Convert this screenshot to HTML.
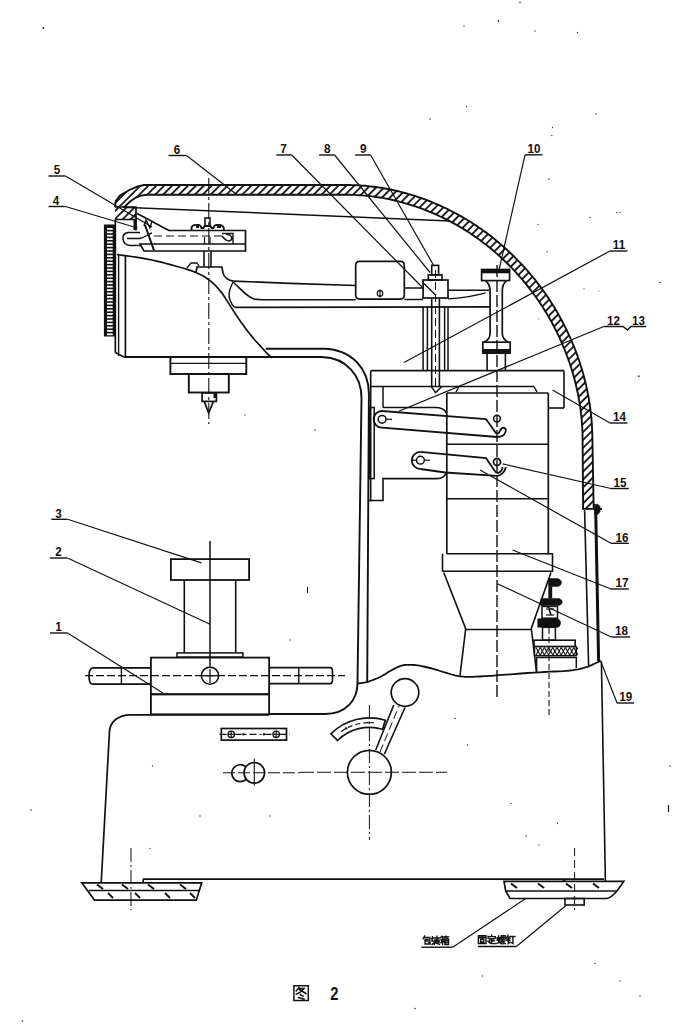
<!DOCTYPE html>
<html><head><meta charset="utf-8"><style>
html,body{margin:0;padding:0;background:#fff;}
svg{display:block;}
text{font-family:"Liberation Sans",sans-serif;font-weight:bold;fill:#111;stroke:none;}
</style></head><body>
<svg width="700" height="1026" viewBox="0 0 700 1026" stroke="#111" fill="none" stroke-linecap="butt">
<text x="0" y="0" transform="translate(177.0,153.7) scale(0.9,1)" font-size="13" text-anchor="middle">6</text>
<line x1="168.5" y1="155.5" x2="186.5" y2="155.5" stroke-width="1.4" />
<line x1="186.5" y1="155.5" x2="236.0" y2="194.0" stroke-width="1.2" />
<text x="0" y="0" transform="translate(57.0,174.2) scale(0.9,1)" font-size="13" text-anchor="middle">5</text>
<line x1="48.5" y1="176.0" x2="65.5" y2="176.0" stroke-width="1.4" />
<line x1="65.5" y1="176.0" x2="152.0" y2="227.0" stroke-width="1.2" />
<text x="0" y="0" transform="translate(56.0,204.7) scale(0.9,1)" font-size="13" text-anchor="middle">4</text>
<line x1="48.5" y1="206.5" x2="65.5" y2="206.5" stroke-width="1.4" />
<line x1="65.5" y1="206.5" x2="137.5" y2="228.0" stroke-width="1.2" />
<text x="0" y="0" transform="translate(283.6,153.2) scale(0.9,1)" font-size="13" text-anchor="middle">7</text>
<line x1="276.3" y1="155.0" x2="291.7" y2="155.0" stroke-width="1.4" />
<line x1="291.7" y1="155.0" x2="423.0" y2="288.0" stroke-width="1.2" />
<text x="0" y="0" transform="translate(327.3,153.2) scale(0.9,1)" font-size="13" text-anchor="middle">8</text>
<line x1="319.1" y1="155.0" x2="334.6" y2="155.0" stroke-width="1.4" />
<line x1="334.6" y1="155.0" x2="430.0" y2="272.5" stroke-width="1.2" />
<text x="0" y="0" transform="translate(363.3,153.2) scale(0.9,1)" font-size="13" text-anchor="middle">9</text>
<line x1="355.1" y1="155.0" x2="370.6" y2="155.0" stroke-width="1.4" />
<line x1="370.6" y1="155.0" x2="434.0" y2="266.0" stroke-width="1.2" />
<text x="0" y="0" transform="translate(534.0,153.0) scale(0.9,1)" font-size="13" text-anchor="middle">10</text>
<line x1="525.0" y1="154.8" x2="542.5" y2="154.8" stroke-width="1.4" />
<line x1="525.0" y1="154.8" x2="499.0" y2="270.0" stroke-width="1.2" />
<text x="0" y="0" transform="translate(619.0,249.2) scale(0.9,1)" font-size="13" text-anchor="middle">11</text>
<line x1="610.0" y1="251.0" x2="627.5" y2="251.0" stroke-width="1.4" />
<line x1="610.0" y1="251.0" x2="404.0" y2="362.5" stroke-width="1.2" />
<text x="0" y="0" transform="translate(619.5,421.2) scale(0.9,1)" font-size="13" text-anchor="middle">14</text>
<line x1="610.0" y1="423.0" x2="627.5" y2="423.0" stroke-width="1.4" />
<line x1="610.0" y1="423.0" x2="552.5" y2="390.0" stroke-width="1.2" />
<text x="0" y="0" transform="translate(620.0,486.7) scale(0.9,1)" font-size="13" text-anchor="middle">15</text>
<line x1="611.0" y1="488.5" x2="628.8" y2="488.5" stroke-width="1.4" />
<line x1="611.0" y1="488.5" x2="502.5" y2="463.8" stroke-width="1.2" />
<text x="0" y="0" transform="translate(622.0,541.5) scale(0.9,1)" font-size="13" text-anchor="middle">16</text>
<line x1="611.0" y1="543.3" x2="628.8" y2="543.3" stroke-width="1.4" />
<line x1="611.0" y1="543.3" x2="480.0" y2="470.0" stroke-width="1.2" />
<text x="0" y="0" transform="translate(622.0,587.2) scale(0.9,1)" font-size="13" text-anchor="middle">17</text>
<line x1="611.0" y1="589.0" x2="628.8" y2="589.0" stroke-width="1.4" />
<line x1="611.0" y1="589.0" x2="512.5" y2="550.0" stroke-width="1.2" />
<text x="0" y="0" transform="translate(621.4,635.2) scale(0.9,1)" font-size="13" text-anchor="middle">18</text>
<line x1="611.4" y1="637.0" x2="630.0" y2="637.0" stroke-width="1.4" />
<line x1="611.4" y1="637.0" x2="497.5" y2="583.8" stroke-width="1.2" />
<text x="0" y="0" transform="translate(625.7,701.2) scale(0.9,1)" font-size="13" text-anchor="middle">19</text>
<line x1="617.0" y1="703.0" x2="634.0" y2="703.0" stroke-width="1.4" />
<line x1="617.0" y1="703.0" x2="601.4" y2="662.9" stroke-width="1.2" />
<text x="0" y="0" transform="translate(58.5,517.5) scale(0.9,1)" font-size="13" text-anchor="middle">3</text>
<line x1="51.3" y1="519.3" x2="67.6" y2="519.3" stroke-width="1.4" />
<line x1="67.6" y1="519.3" x2="201.4" y2="562.9" stroke-width="1.2" />
<text x="0" y="0" transform="translate(58.5,556.2) scale(0.9,1)" font-size="13" text-anchor="middle">2</text>
<line x1="50.0" y1="558.0" x2="67.5" y2="558.0" stroke-width="1.4" />
<line x1="67.5" y1="558.0" x2="210.0" y2="624.3" stroke-width="1.2" />
<text x="0" y="0" transform="translate(58.5,631.2) scale(0.9,1)" font-size="13" text-anchor="middle">1</text>
<line x1="50.0" y1="633.0" x2="67.5" y2="633.0" stroke-width="1.4" />
<line x1="67.5" y1="633.0" x2="162.9" y2="692.9" stroke-width="1.2" />
<text x="0" y="0" transform="translate(613.5,324.5) scale(0.9,1)" font-size="13" text-anchor="middle">12</text>
<text x="0" y="0" transform="translate(638.5,324.5) scale(0.9,1)" font-size="13" text-anchor="middle">13</text>
<path d="M603.75,326.5 L623,326.5 L627.5,330 L631,326.5 L646.25,326.5" stroke-width="1.4" fill="none" />
<line x1="603.8" y1="326.5" x2="398.8" y2="411.2" stroke-width="1.2" />
<defs><pattern id="hatch" patternUnits="userSpaceOnUse" width="5.6" height="20" patternTransform="rotate(45)"><line x1="1" y1="-2" x2="1" y2="22" stroke="#111" stroke-width="1.8"/></pattern></defs>
<path d="M114.9,207.0 L115.7,201.1 L120.0,195.5 L129.4,190.0 L137.0,186.6 L144.0,185.0 L347.2,185.0 L349.6,185.0 L352.2,185.1 L354.7,185.2 L357.3,185.3 L359.9,185.4 L362.6,185.6 L365.2,185.8 L367.8,186.1 L370.5,186.4 L373.1,186.7 L375.8,187.0 L378.5,187.4 L381.1,187.8 L383.8,188.3 L386.5,188.8 L389.1,189.3 L391.8,189.8 L394.5,190.4 L397.1,191.0 L399.8,191.7 L402.5,192.3 L405.1,193.0 L407.8,193.8 L410.4,194.6 L413.0,195.4 L415.7,196.2 L418.3,197.1 L420.9,198.0 L423.6,198.9 L426.2,199.9 L428.8,200.9 L431.4,201.9 L433.9,203.0 L436.5,204.1 L439.1,205.2 L441.6,206.4 L444.2,207.5 L446.7,208.7 L449.2,210.0 L451.7,211.3 L454.2,212.6 L456.7,213.9 L459.2,215.3 L461.7,216.7 L464.1,218.1 L466.5,219.5 L469.0,221.0 L471.4,222.5 L473.7,224.0 L476.1,225.6 L478.5,227.2 L480.8,228.8 L483.1,230.5 L485.4,232.1 L487.7,233.8 L490.0,235.6 L492.3,237.3 L494.5,239.1 L496.7,240.9 L498.9,242.7 L501.1,244.6 L503.3,246.5 L505.4,248.4 L507.5,250.3 L509.6,252.3 L511.7,254.2 L513.8,256.2 L515.8,258.3 L517.8,260.3 L519.8,262.4 L521.8,264.5 L523.8,266.6 L525.7,268.7 L527.6,270.9 L529.5,273.1 L531.3,275.3 L533.2,277.5 L535.0,279.7 L536.8,282.0 L538.5,284.3 L540.3,286.6 L542.0,288.9 L543.7,291.3 L545.3,293.6 L547.0,296.0 L548.6,298.4 L550.2,300.8 L551.7,303.2 L553.3,305.7 L554.8,308.1 L556.2,310.6 L557.7,313.1 L559.1,315.6 L560.5,318.2 L561.9,320.7 L563.2,323.2 L564.5,325.8 L565.8,328.4 L567.1,331.0 L568.3,333.6 L569.5,336.2 L570.7,338.8 L571.8,341.5 L572.9,344.1 L574.0,346.8 L575.1,349.5 L576.1,352.1 L577.1,354.8 L578.0,357.5 L579.0,360.2 L579.9,363.0 L580.7,365.7 L581.6,368.4 L582.4,371.1 L583.2,373.9 L583.9,376.6 L584.6,379.4 L585.3,382.1 L586.0,384.9 L586.6,387.7 L587.2,390.4 L587.7,393.2 L588.3,396.0 L588.8,398.7 L589.2,401.5 L589.7,404.3 L590.1,407.0 L590.4,409.8 L590.8,412.6 L591.1,415.3 L591.4,418.1 L591.6,420.8 L591.8,423.6 L592.0,426.3 L592.1,429.0 L592.2,431.7 L592.3,434.3 L592.4,437.0 L592.4,439.5 L593.7,508.9 L583.1,508.9 L582.6,439.5 L582.6,437.1 L582.5,434.5 L582.5,432.0 L582.3,429.4 L582.2,426.8 L582.0,424.2 L581.8,421.5 L581.6,418.9 L581.3,416.3 L581.0,413.6 L580.7,410.9 L580.4,408.3 L580.0,405.6 L579.6,403.0 L579.1,400.3 L578.6,397.6 L578.1,395.0 L577.6,392.3 L577.0,389.7 L576.4,387.0 L575.8,384.3 L575.1,381.7 L574.5,379.1 L573.7,376.4 L573.0,373.8 L572.2,371.1 L571.4,368.5 L570.6,365.9 L569.7,363.3 L568.8,360.7 L567.9,358.1 L566.9,355.5 L566.0,352.9 L564.9,350.4 L563.9,347.8 L562.8,345.3 L561.7,342.7 L560.6,340.2 L559.5,337.7 L558.3,335.2 L557.1,332.7 L555.9,330.2 L554.6,327.7 L553.3,325.3 L552.0,322.8 L550.7,320.4 L549.3,318.0 L547.9,315.6 L546.5,313.2 L545.0,310.8 L543.6,308.5 L542.1,306.2 L540.5,303.8 L539.0,301.5 L537.4,299.2 L535.8,297.0 L534.2,294.7 L532.6,292.5 L530.9,290.3 L529.2,288.1 L527.5,285.9 L525.7,283.7 L524.0,281.6 L522.2,279.5 L520.4,277.4 L518.5,275.3 L516.7,273.3 L514.8,271.2 L512.9,269.2 L511.0,267.2 L509.1,265.2 L507.1,263.3 L505.1,261.4 L503.1,259.5 L501.1,257.6 L499.1,255.7 L497.0,253.9 L495.0,252.1 L492.9,250.3 L490.7,248.5 L488.6,246.8 L486.5,245.1 L484.3,243.4 L482.1,241.8 L479.9,240.1 L477.7,238.5 L475.5,236.9 L473.2,235.4 L471.0,233.8 L468.7,232.3 L466.4,230.9 L464.1,229.4 L461.8,228.0 L459.4,226.6 L457.1,225.2 L454.7,223.9 L452.3,222.6 L450.0,221.3 L447.6,220.1 L445.2,218.8 L442.7,217.6 L440.3,216.5 L437.9,215.3 L435.4,214.2 L432.9,213.1 L430.5,212.1 L428.0,211.1 L425.5,210.1 L423.0,209.1 L420.5,208.2 L418.0,207.3 L415.5,206.4 L412.9,205.6 L410.4,204.8 L407.9,204.0 L405.3,203.3 L402.8,202.5 L400.2,201.9 L397.7,201.2 L395.1,200.6 L392.6,200.0 L390.0,199.4 L387.5,198.9 L384.9,198.4 L382.3,197.9 L379.8,197.5 L377.2,197.1 L374.7,196.7 L372.1,196.4 L369.6,196.1 L367.0,195.8 L364.5,195.6 L361.9,195.4 L359.4,195.2 L356.9,195.1 L354.4,194.9 L352.0,194.9 L349.5,194.8 L347.2,194.8 L148.3,194.8 L142.0,195.4 L136.3,197.3 L130.0,201.5 L125.1,206.3 L123.0,207.0 Z" fill="url(#hatch)" stroke="none"/>
<rect x="114.9" y="207" width="21.1" height="12.5" fill="url(#hatch)" stroke="none"/>
<path d="M114.9,207.0 L115.7,201.1 L120.0,195.5 L129.4,190.0 L137.0,186.6 L144.0,185.0 L347.2,185.0 L349.6,185.0 L352.2,185.1 L354.7,185.2 L357.3,185.3 L359.9,185.4 L362.6,185.6 L365.2,185.8 L367.8,186.1 L370.5,186.4 L373.1,186.7 L375.8,187.0 L378.5,187.4 L381.1,187.8 L383.8,188.3 L386.5,188.8 L389.1,189.3 L391.8,189.8 L394.5,190.4 L397.1,191.0 L399.8,191.7 L402.5,192.3 L405.1,193.0 L407.8,193.8 L410.4,194.6 L413.0,195.4 L415.7,196.2 L418.3,197.1 L420.9,198.0 L423.6,198.9 L426.2,199.9 L428.8,200.9 L431.4,201.9 L433.9,203.0 L436.5,204.1 L439.1,205.2 L441.6,206.4 L444.2,207.5 L446.7,208.7 L449.2,210.0 L451.7,211.3 L454.2,212.6 L456.7,213.9 L459.2,215.3 L461.7,216.7 L464.1,218.1 L466.5,219.5 L469.0,221.0 L471.4,222.5 L473.7,224.0 L476.1,225.6 L478.5,227.2 L480.8,228.8 L483.1,230.5 L485.4,232.1 L487.7,233.8 L490.0,235.6 L492.3,237.3 L494.5,239.1 L496.7,240.9 L498.9,242.7 L501.1,244.6 L503.3,246.5 L505.4,248.4 L507.5,250.3 L509.6,252.3 L511.7,254.2 L513.8,256.2 L515.8,258.3 L517.8,260.3 L519.8,262.4 L521.8,264.5 L523.8,266.6 L525.7,268.7 L527.6,270.9 L529.5,273.1 L531.3,275.3 L533.2,277.5 L535.0,279.7 L536.8,282.0 L538.5,284.3 L540.3,286.6 L542.0,288.9 L543.7,291.3 L545.3,293.6 L547.0,296.0 L548.6,298.4 L550.2,300.8 L551.7,303.2 L553.3,305.7 L554.8,308.1 L556.2,310.6 L557.7,313.1 L559.1,315.6 L560.5,318.2 L561.9,320.7 L563.2,323.2 L564.5,325.8 L565.8,328.4 L567.1,331.0 L568.3,333.6 L569.5,336.2 L570.7,338.8 L571.8,341.5 L572.9,344.1 L574.0,346.8 L575.1,349.5 L576.1,352.1 L577.1,354.8 L578.0,357.5 L579.0,360.2 L579.9,363.0 L580.7,365.7 L581.6,368.4 L582.4,371.1 L583.2,373.9 L583.9,376.6 L584.6,379.4 L585.3,382.1 L586.0,384.9 L586.6,387.7 L587.2,390.4 L587.7,393.2 L588.3,396.0 L588.8,398.7 L589.2,401.5 L589.7,404.3 L590.1,407.0 L590.4,409.8 L590.8,412.6 L591.1,415.3 L591.4,418.1 L591.6,420.8 L591.8,423.6 L592.0,426.3 L592.1,429.0 L592.2,431.7 L592.3,434.3 L592.4,437.0 L592.4,439.5 L593.7,508.9" stroke-width="1.9" fill="none" />
<path d="M123.0,207.0 L125.1,206.3 L130.0,201.5 L136.3,197.3 L142.0,195.4 L148.3,194.8 L347.2,194.8 L349.5,194.8 L352.0,194.9 L354.4,194.9 L356.9,195.1 L359.4,195.2 L361.9,195.4 L364.5,195.6 L367.0,195.8 L369.6,196.1 L372.1,196.4 L374.7,196.7 L377.2,197.1 L379.8,197.5 L382.3,197.9 L384.9,198.4 L387.5,198.9 L390.0,199.4 L392.6,200.0 L395.1,200.6 L397.7,201.2 L400.2,201.9 L402.8,202.5 L405.3,203.3 L407.9,204.0 L410.4,204.8 L412.9,205.6 L415.5,206.4 L418.0,207.3 L420.5,208.2 L423.0,209.1 L425.5,210.1 L428.0,211.1 L430.5,212.1 L432.9,213.1 L435.4,214.2 L437.9,215.3 L440.3,216.5 L442.7,217.6 L445.2,218.8 L447.6,220.1 L450.0,221.3 L452.3,222.6 L454.7,223.9 L457.1,225.2 L459.4,226.6 L461.8,228.0 L464.1,229.4 L466.4,230.9 L468.7,232.3 L471.0,233.8 L473.2,235.4 L475.5,236.9 L477.7,238.5 L479.9,240.1 L482.1,241.8 L484.3,243.4 L486.5,245.1 L488.6,246.8 L490.7,248.5 L492.9,250.3 L495.0,252.1 L497.0,253.9 L499.1,255.7 L501.1,257.6 L503.1,259.5 L505.1,261.4 L507.1,263.3 L509.1,265.2 L511.0,267.2 L512.9,269.2 L514.8,271.2 L516.7,273.3 L518.5,275.3 L520.4,277.4 L522.2,279.5 L524.0,281.6 L525.7,283.7 L527.5,285.9 L529.2,288.1 L530.9,290.3 L532.6,292.5 L534.2,294.7 L535.8,297.0 L537.4,299.2 L539.0,301.5 L540.5,303.8 L542.1,306.2 L543.6,308.5 L545.0,310.8 L546.5,313.2 L547.9,315.6 L549.3,318.0 L550.7,320.4 L552.0,322.8 L553.3,325.3 L554.6,327.7 L555.9,330.2 L557.1,332.7 L558.3,335.2 L559.5,337.7 L560.6,340.2 L561.7,342.7 L562.8,345.3 L563.9,347.8 L564.9,350.4 L566.0,352.9 L566.9,355.5 L567.9,358.1 L568.8,360.7 L569.7,363.3 L570.6,365.9 L571.4,368.5 L572.2,371.1 L573.0,373.8 L573.7,376.4 L574.5,379.1 L575.1,381.7 L575.8,384.3 L576.4,387.0 L577.0,389.7 L577.6,392.3 L578.1,395.0 L578.6,397.6 L579.1,400.3 L579.6,403.0 L580.0,405.6 L580.4,408.3 L580.7,410.9 L581.0,413.6 L581.3,416.3 L581.6,418.9 L581.8,421.5 L582.0,424.2 L582.2,426.8 L582.3,429.4 L582.5,432.0 L582.5,434.5 L582.6,437.1 L582.6,439.5 L583.1,508.9" stroke-width="1.9" fill="none" />
<line x1="582.0" y1="508.9" x2="602.0" y2="508.9" stroke-width="1.8" />
<rect x="103.9" y="224.5" width="11.4" height="112.0" stroke-width="0" fill="#111" />
<rect x="107.0" y="228.0" width="5.7" height="1.8" stroke-width="0" fill="#fff" />
<rect x="107.0" y="231.4" width="5.7" height="1.8" stroke-width="0" fill="#fff" />
<rect x="107.0" y="234.8" width="5.7" height="1.8" stroke-width="0" fill="#fff" />
<rect x="107.0" y="238.2" width="5.7" height="1.8" stroke-width="0" fill="#fff" />
<rect x="107.0" y="241.6" width="5.7" height="1.8" stroke-width="0" fill="#fff" />
<rect x="107.0" y="245.0" width="5.7" height="1.8" stroke-width="0" fill="#fff" />
<rect x="107.0" y="248.4" width="5.7" height="1.8" stroke-width="0" fill="#fff" />
<rect x="107.0" y="251.8" width="5.7" height="1.8" stroke-width="0" fill="#fff" />
<rect x="107.0" y="255.2" width="5.7" height="1.8" stroke-width="0" fill="#fff" />
<rect x="107.0" y="258.6" width="5.7" height="1.8" stroke-width="0" fill="#fff" />
<rect x="107.0" y="262.0" width="5.7" height="1.8" stroke-width="0" fill="#fff" />
<rect x="107.0" y="265.4" width="5.7" height="1.8" stroke-width="0" fill="#fff" />
<rect x="107.0" y="268.8" width="5.7" height="1.8" stroke-width="0" fill="#fff" />
<rect x="107.0" y="272.2" width="5.7" height="1.8" stroke-width="0" fill="#fff" />
<rect x="107.0" y="275.6" width="5.7" height="1.8" stroke-width="0" fill="#fff" />
<rect x="107.0" y="279.0" width="5.7" height="1.8" stroke-width="0" fill="#fff" />
<rect x="107.0" y="282.4" width="5.7" height="1.8" stroke-width="0" fill="#fff" />
<rect x="107.0" y="285.8" width="5.7" height="1.8" stroke-width="0" fill="#fff" />
<rect x="107.0" y="289.2" width="5.7" height="1.8" stroke-width="0" fill="#fff" />
<rect x="107.0" y="292.6" width="5.7" height="1.8" stroke-width="0" fill="#fff" />
<rect x="107.0" y="296.0" width="5.7" height="1.8" stroke-width="0" fill="#fff" />
<rect x="107.0" y="299.4" width="5.7" height="1.8" stroke-width="0" fill="#fff" />
<rect x="107.0" y="302.8" width="5.7" height="1.8" stroke-width="0" fill="#fff" />
<rect x="107.0" y="306.2" width="5.7" height="1.8" stroke-width="0" fill="#fff" />
<rect x="107.0" y="309.6" width="5.7" height="1.8" stroke-width="0" fill="#fff" />
<rect x="107.0" y="313.0" width="5.7" height="1.8" stroke-width="0" fill="#fff" />
<rect x="107.0" y="316.4" width="5.7" height="1.8" stroke-width="0" fill="#fff" />
<rect x="107.0" y="319.8" width="5.7" height="1.8" stroke-width="0" fill="#fff" />
<rect x="107.0" y="323.2" width="5.7" height="1.8" stroke-width="0" fill="#fff" />
<rect x="107.0" y="326.6" width="5.7" height="1.8" stroke-width="0" fill="#fff" />
<rect x="107.0" y="330.0" width="5.7" height="1.8" stroke-width="0" fill="#fff" />
<rect x="107.0" y="333.4" width="5.7" height="1.8" stroke-width="0" fill="#fff" />
<line x1="115.3" y1="219.5" x2="115.3" y2="352.5" stroke-width="1.7" />
<line x1="118.6" y1="255.0" x2="118.6" y2="356.0" stroke-width="1.4" />
<line x1="125.4" y1="255.0" x2="125.4" y2="357.0" stroke-width="1.7" />
<line x1="115.3" y1="352.5" x2="123.8" y2="357.0" stroke-width="1.7" />
<line x1="123.8" y1="357.0" x2="270.0" y2="357.0" stroke-width="1.9" />
<path d="M117.0,254.5 L119.5,254.9 L122.8,255.3 L126.8,255.9 L131.2,256.5 L135.8,257.2 L140.4,257.9 L144.7,258.6 L148.6,259.3 L152.1,260.0 L155.6,260.8 L158.9,261.6 L162.1,262.4 L165.3,263.2 L168.4,264.1 L171.4,264.9 L174.3,265.7 L177.2,266.5 L180.0,267.3 L182.7,268.0 L185.3,268.8 L187.9,269.6 L190.3,270.4 L192.7,271.2 L194.9,272.1 L197.0,273.0 L198.9,273.9 L200.8,274.8 L202.5,275.7 L204.2,276.6 L205.8,277.7 L207.4,278.7 L209.0,279.9 L210.6,281.1 L212.1,282.4 L213.6,283.8 L215.0,285.2 L216.5,286.6 L217.8,288.2 L219.2,289.7 L220.6,291.4 L222.0,293.1 L223.3,295.0 L224.6,296.9 L225.8,298.9 L227.1,300.9 L228.4,302.9 L229.6,304.9 L230.9,306.9 L232.2,308.8 L233.4,310.7 L234.6,312.6 L235.8,314.5 L237.1,316.4 L238.4,318.4 L239.7,320.3 L241.1,322.3 L242.6,324.3 L244.1,326.4 L245.6,328.5 L247.2,330.6 L248.9,332.7 L250.5,334.8 L252.2,336.9 L254.0,339.0 L255.9,341.2 L258.0,343.5 L260.2,345.9 L262.3,348.3 L264.5,350.6 L266.4,352.6 L268.1,354.3 L269.4,355.7 L270.4,356.6 L271.0,357.1 L271.4,357.4 L271.7,357.4 L271.8,357.3 L271.8,357.1 L271.9,357.0 L272.0,357.0" stroke-width="1.7" fill="none" />
<rect x="170.4" y="357.0" width="75.9" height="17.0" stroke-width="1.9" fill="none" />
<line x1="170.4" y1="363.4" x2="246.3" y2="363.4" stroke-width="1.3" />
<rect x="188.8" y="374.0" width="40.0" height="18.5" stroke-width="1.9" fill="none" />
<rect x="202.1" y="392.9" width="14.3" height="8.5" stroke-width="1.7" fill="none" />
<path d="M204.3,401.4 L208.6,413 L213.5,401.4" stroke-width="1.7" fill="none" />
<rect x="213.5" y="393.5" width="2.9" height="4.5" stroke-width="0" fill="#111" />
<line x1="208.8" y1="178.0" x2="208.8" y2="424.0" stroke-width="1.1" stroke-dasharray="16 3 3 3"/>
<path d="M114.9,207 L136,207 L136,230.5 M114.9,219.5 L136,219.5" stroke-width="1.7" fill="none" />
<rect x="133.5" y="220.0" width="3.0" height="10.0" stroke-width="0" fill="#111" />
<line x1="123.0" y1="207.2" x2="450.0" y2="221.0" stroke-width="1.6" />
<path d="M137,213.5 C150,220 160,226 169,230.5 L245.5,230.5 L245.5,251 L144,251 L140,244 L245.5,244" stroke-width="1.7" fill="none" />
<path d="M140,232.5 L128,232.5 C124,233 122.5,236 123,239 C123.5,243 126,245 130,245.5 L140,245.5" stroke-width="1.6" fill="none" />
<path d="M127,238.5 L140,238.5 C146,237 148,234 152,233" stroke-width="1.3" fill="none" />
<line x1="154.0" y1="236.0" x2="222.0" y2="236.0" stroke-width="1.1" stroke-dasharray="8 4"/>
<path d="M204.5,237 L204.5,244 M210,237 L210,244" stroke-width="1.2" fill="none" />
<path d="M222,233.5 L233,233.5 L233,244 M222,236 C226,241 229,242 231,240 C233,237 230,234 226,234" stroke-width="1.4" fill="none" />
<path d="M191.5,230.5 L191.5,227.5 Q192.5,224.8 196,224.8 L198.5,224.8 Q201,225.2 201.5,228 L203.5,228 L204.5,226 L210.5,226 L211.5,228 L213.5,228 Q214,224.8 217,224.8 L220,224.8 Q223,225.2 223.8,228 L224,230.5" stroke-width="1.8" fill="none" />
<rect x="205.0" y="218.0" width="5.0" height="8.0" stroke-width="1.6" fill="none" />
<rect x="196.0" y="225.5" width="3.0" height="2.5" stroke-width="0" fill="#111" />
<rect x="217.0" y="225.5" width="4.0" height="2.5" stroke-width="0" fill="#111" />
<path d="M145,225 L154,250.5" stroke-width="2.0" fill="none" />
<path d="M144,226 L146,220 L150,228 L152,221" stroke-width="1.4" fill="none" />
<line x1="204.0" y1="251.0" x2="204.0" y2="267.0" stroke-width="1.6" />
<line x1="211.0" y1="251.0" x2="211.0" y2="267.0" stroke-width="1.6" />
<path d="M187,268 L191,263 L197,263 L199,266" stroke-width="1.3" fill="none" />
<path d="M196.1,272 L197,267 L221.9,267 L223.1,273.4 C224,277 228,280.5 233.4,281.1" stroke-width="1.7" fill="none" />
<path d="M233.4,281.1 L290,283.4 L355.7,285.5" stroke-width="1.7" fill="none" />
<path d="M233,282 C240,288 246,296 254,299.1 L262,299.7 L355.7,299.7" stroke-width="1.6" fill="none" />
<path d="M233,282 C229,290 228,296 230,300 C231,303 233,306 234.7,307.4" stroke-width="1.4" fill="none" />
<line x1="234.7" y1="307.4" x2="490.0" y2="306.8" stroke-width="1.8" />
<path d="M359.7,261.4 L400.3,261.4 Q404.3,261.4 404.3,265.4 L404.3,295.1 Q404.3,299.1 400.3,299.1 L359.7,299.1 Q355.7,299.1 355.7,295.1 L355.7,265.4 Q355.7,261.4 359.7,261.4 Z" stroke-width="1.7" fill="none" />
<circle cx="380.0" cy="293.4" r="2.8" stroke-width="1.2" fill="none" />
<line x1="380.0" y1="289.5" x2="380.0" y2="297.5" stroke-width="1.2" />
<line x1="404.3" y1="288.0" x2="423.1" y2="288.0" stroke-width="1.5" />
<line x1="404.3" y1="299.5" x2="423.1" y2="299.5" stroke-width="1.5" />
<rect x="423.1" y="280.0" width="24.9" height="18.0" stroke-width="1.7" fill="none" />
<line x1="424.0" y1="283.4" x2="436.0" y2="295.4" stroke-width="1.4" />
<rect x="428.3" y="274.9" width="13.7" height="5.1" stroke-width="1.6" fill="none" />
<rect x="431.7" y="265.4" width="6.9" height="9.5" stroke-width="1.6" fill="none" />
<line x1="448.0" y1="290.3" x2="489.0" y2="290.3" stroke-width="1.6" />
<path d="M448,298.9 C465,298 478,295 485.7,292.9" stroke-width="1.4" fill="none" />
<line x1="423.1" y1="306.6" x2="423.1" y2="370.7" stroke-width="1.5" />
<line x1="427.4" y1="306.6" x2="427.4" y2="370.7" stroke-width="1.5" />
<line x1="444.6" y1="306.6" x2="444.6" y2="370.7" stroke-width="1.5" />
<line x1="448.0" y1="306.6" x2="448.0" y2="370.7" stroke-width="1.5" />
<line x1="431.7" y1="299.0" x2="431.7" y2="386.5" stroke-width="1.6" />
<line x1="439.4" y1="299.0" x2="439.4" y2="386.5" stroke-width="1.6" />
<line x1="435.5" y1="270.0" x2="435.5" y2="390.0" stroke-width="1.0" stroke-dasharray="8 4"/>
<path d="M431.2,386.5 L435.6,392.6 L441.8,386.5" stroke-width="1.4" fill="none" />
<rect x="481.6" y="269.5" width="28.0" height="11.1" stroke-width="1.7" fill="none" />
<rect x="481.6" y="269.5" width="28.0" height="3.8" stroke-width="0" fill="#111" />
<path d="M485.5,280.6 C488.5,283 490.1,286 490.1,291 L490.1,333 C490.1,338 487,341 484,342.2 M506.5,280.6 C503.5,283 502.3,286 502.3,291 L502.3,333 C502.3,338 505.5,341 508.5,342.2" stroke-width="1.7" fill="none" />
<rect x="482.8" y="342.2" width="27.4" height="11.0" stroke-width="1.7" fill="none" />
<rect x="482.8" y="349.0" width="27.4" height="4.2" stroke-width="0" fill="#111" />
<line x1="487.1" y1="353.2" x2="487.1" y2="370.7" stroke-width="1.6" />
<line x1="505.4" y1="353.2" x2="505.4" y2="370.7" stroke-width="1.6" />
<line x1="497.0" y1="265.0" x2="497.0" y2="700.0" stroke-width="1.4" stroke-dasharray="12 3"/>
<path d="M265.7,348.7 L324,348.7 C352,349.5 368.9,369 368.9,394 L367.2,683" stroke-width="1.9" fill="none" />
<path d="M245.7,357 L322,357 C347,357.8 361.5,376 361.5,398 L357.5,683 C357.5,700 346,714 325,714 L269,714" stroke-width="1.9" fill="none" />
<line x1="370.7" y1="370.7" x2="564.0" y2="370.7" stroke-width="1.7" />
<line x1="564.0" y1="370.7" x2="564.0" y2="408.0" stroke-width="1.6" />
<line x1="549.0" y1="408.0" x2="564.0" y2="408.0" stroke-width="1.6" />
<line x1="370.7" y1="370.7" x2="370.7" y2="501.4" stroke-width="1.6" />
<line x1="370.7" y1="386.5" x2="534.0" y2="386.5" stroke-width="1.6" />
<path d="M534,386.5 L537,392 M456,392 L459,386.5" stroke-width="1.4" fill="none" />
<line x1="446.8" y1="393.0" x2="548.3" y2="393.0" stroke-width="1.7" />
<line x1="383.0" y1="386.5" x2="383.0" y2="407.5" stroke-width="1.5" />
<path d="M383,407.5 L435,407.5 C442,407.5 445,410 446.1,413" stroke-width="1.5" fill="none" />
<rect x="369.5" y="407.5" width="4.7" height="71.1" stroke-width="1.5" fill="none" />
<path d="M369,500.5 L383,500.5 L383,478.6 L437,478.6 C442,478.6 445,476 446.1,473" stroke-width="1.6" fill="none" />
<line x1="446.8" y1="393.0" x2="446.8" y2="553.8" stroke-width="1.7" />
<line x1="548.3" y1="393.0" x2="548.3" y2="553.8" stroke-width="1.7" />
<line x1="446.8" y1="444.3" x2="548.3" y2="444.3" stroke-width="1.6" />
<line x1="446.8" y1="498.8" x2="548.3" y2="498.8" stroke-width="1.6" />
<line x1="446.8" y1="553.8" x2="548.3" y2="553.8" stroke-width="1.6" />
<path d="M442.5,553.75 L442.5,571.25 L552.5,571.25 L552.5,553.75 L547,553.75" stroke-width="1.6" fill="none" />
<path d="M382,411 L460,417.2 L486,419 L495.7,432.7 C496.5,434 497.5,434 499,432.8 C500,430 501,428.5 503,427.6 C505.5,427.5 506.5,430 505.5,432 C504.5,435 501,437 497.3,437 L382,427.7" stroke-width="1.8" fill="none" />
<path d="M382,411 A8.35,8.35 0 0 0 382,427.7" stroke-width="1.8" fill="none" />
<circle cx="382.1" cy="419.3" r="3.9" stroke-width="1.5" fill="none" />
<line x1="386.0" y1="419.3" x2="392.0" y2="419.3" stroke-width="1.2" />
<circle cx="497.0" cy="418.6" r="3.4" stroke-width="1.6" fill="none" />
<path d="M420.4,451.8 L486,458 L495,471.3 C496,473 497,473.5 499,472.5 C501,471.5 502.5,469 502.5,467 M420.4,469 L445.3,472.5 L496.9,475.8 C501,475.5 505,472 505.9,467" stroke-width="1.8" fill="none" />
<path d="M420.4,451.8 A8.6,8.6 0 0 0 420.4,469" stroke-width="1.8" fill="none" />
<circle cx="420.4" cy="460.2" r="3.9" stroke-width="1.5" fill="none" />
<line x1="412.0" y1="460.2" x2="416.0" y2="460.2" stroke-width="1.2" />
<line x1="425.0" y1="460.2" x2="430.0" y2="460.2" stroke-width="1.2" />
<circle cx="497.0" cy="462.0" r="3.5" stroke-width="1.8" fill="none" />
<path d="M443.75,572.5 L465.7,628.6 L460,675.7" stroke-width="1.6" fill="none" />
<line x1="465.7" y1="629.5" x2="531.3" y2="629.5" stroke-width="1.6" />
<path d="M551,572.5 L531.3,628.4 L536.6,672.9" stroke-width="1.6" fill="none" />
<path d="M548.4,578.6 L558,578.6 Q561.5,580 561.5,582.6 Q561.5,585.5 558,586.6 L548.4,586.6 Z" stroke-width="0.5" fill="#111" />
<rect x="548.4" y="586.6" width="3.8" height="11.8" stroke-width="0" fill="#111" />
<path d="M540.9,598.4 L559,598.4 Q562.3,599.5 562.3,602 Q562.3,604.5 559,605.4 L540.9,605.4 Z" stroke-width="0.5" fill="#111" />
<rect x="542.0" y="606.4" width="15.5" height="11.8" stroke-width="1.5" fill="none" />
<line x1="546.0" y1="609.0" x2="554.0" y2="609.0" stroke-width="1.2" />
<line x1="546.0" y1="615.0" x2="554.0" y2="615.0" stroke-width="1.2" />
<line x1="549.0" y1="609.0" x2="551.0" y2="615.0" stroke-width="1.6" />
<path d="M537.7,618.8 L558,618.8 Q560.7,620 560.7,623 Q560.7,626 558,627.3 L537.7,627.3 Z" stroke-width="0.5" fill="#111" />
<rect x="542.5" y="627.3" width="12.9" height="12.9" stroke-width="1.5" fill="none" />
<rect x="534.0" y="640.2" width="41.2" height="6.4" stroke-width="1.6" fill="none" />
<rect x="534.5" y="646.6" width="41.8" height="9.1" stroke-width="1.5" fill="#fff" />
<line x1="536.0" y1="647.5" x2="540.2" y2="655.0" stroke-width="1.1" />
<line x1="540.2" y1="647.5" x2="536.0" y2="655.0" stroke-width="1.1" />
<line x1="540.2" y1="647.5" x2="544.4" y2="655.0" stroke-width="1.1" />
<line x1="544.4" y1="647.5" x2="540.2" y2="655.0" stroke-width="1.1" />
<line x1="544.4" y1="647.5" x2="548.6" y2="655.0" stroke-width="1.1" />
<line x1="548.6" y1="647.5" x2="544.4" y2="655.0" stroke-width="1.1" />
<line x1="548.6" y1="647.5" x2="552.8" y2="655.0" stroke-width="1.1" />
<line x1="552.8" y1="647.5" x2="548.6" y2="655.0" stroke-width="1.1" />
<line x1="552.8" y1="647.5" x2="557.0" y2="655.0" stroke-width="1.1" />
<line x1="557.0" y1="647.5" x2="552.8" y2="655.0" stroke-width="1.1" />
<line x1="557.0" y1="647.5" x2="561.2" y2="655.0" stroke-width="1.1" />
<line x1="561.2" y1="647.5" x2="557.0" y2="655.0" stroke-width="1.1" />
<line x1="561.2" y1="647.5" x2="565.4" y2="655.0" stroke-width="1.1" />
<line x1="565.4" y1="647.5" x2="561.2" y2="655.0" stroke-width="1.1" />
<line x1="565.4" y1="647.5" x2="569.6" y2="655.0" stroke-width="1.1" />
<line x1="569.6" y1="647.5" x2="565.4" y2="655.0" stroke-width="1.1" />
<line x1="569.6" y1="647.5" x2="573.8" y2="655.0" stroke-width="1.1" />
<line x1="573.8" y1="647.5" x2="569.6" y2="655.0" stroke-width="1.1" />
<line x1="573.8" y1="647.5" x2="578.0" y2="655.0" stroke-width="1.1" />
<line x1="578.0" y1="647.5" x2="573.8" y2="655.0" stroke-width="1.1" />
<line x1="536.0" y1="657.4" x2="576.3" y2="657.4" stroke-width="1.5" />
<line x1="536.6" y1="657.0" x2="536.6" y2="672.5" stroke-width="1.5" />
<line x1="576.3" y1="657.0" x2="576.3" y2="668.0" stroke-width="1.5" />
<line x1="549.0" y1="628.0" x2="549.0" y2="716.0" stroke-width="1.1" stroke-dasharray="6 3"/>
<line x1="584.6" y1="510.0" x2="588.6" y2="665.7" stroke-width="1.6" />
<line x1="595.7" y1="510.0" x2="598.6" y2="661.4" stroke-width="3.0" />
<path d="M594.3,504.3 L598,504.3 Q600.5,506 600.5,509 Q600.5,512.5 598,514.3 L594.3,514.3 Z" stroke-width="0.5" fill="#111" />
<path d="M357.5,683.5 L358.2,683.4 L359.1,683.3 L360.2,683.2 L361.4,683.1 L362.8,682.9 L364.2,682.7 L365.6,682.4 L367.0,682.0 L368.5,681.6 L370.0,681.0 L371.7,680.5 L373.3,679.8 L375.0,679.2 L376.7,678.5 L378.4,677.7 L380.0,677.0 L381.6,676.2 L383.1,675.3 L384.7,674.4 L386.2,673.5 L387.7,672.5 L389.2,671.6 L390.6,670.8 L392.0,670.0 L393.3,669.3 L394.6,668.6 L395.8,668.0 L397.0,667.3 L398.2,666.8 L399.4,666.3 L400.7,665.9 L402.0,665.5 L403.4,665.2 L404.8,665.0 L406.2,664.9 L407.6,664.8 L409.1,664.8 L410.7,664.8 L412.3,664.9 L414.0,665.0 L415.8,665.2 L417.6,665.4 L419.5,665.7 L421.5,666.1 L423.5,666.5 L425.6,667.0 L427.8,667.5 L430.0,668.0 L432.4,668.6 L434.9,669.4 L437.6,670.2 L440.2,671.0 L442.9,671.9 L445.5,672.7 L447.9,673.4 L450.0,674.0 L451.8,674.5 L453.4,674.9 L454.8,675.3 L456.1,675.6 L457.4,675.9 L458.8,676.1 L460.3,676.3 L462.0,676.5 L463.7,676.6 L465.2,676.8 L466.7,676.9 L468.4,676.9 L470.3,676.9 L472.8,676.8 L476.0,676.7 L480.0,676.5 L485.2,676.2 L491.4,675.8 L498.4,675.2 L505.9,674.7 L513.5,674.1 L520.9,673.5 L527.9,673.0 L534.0,672.6 L539.5,672.3 L544.7,672.0 L549.7,671.7 L554.3,671.5 L558.7,671.3 L562.8,671.1 L566.5,670.8 L570.0,670.5 L573.1,670.1 L575.7,669.7 L578.1,669.3 L580.1,668.9 L581.9,668.4 L583.7,667.9 L585.3,667.4 L587.0,666.9 L588.7,666.3 L590.2,665.7 L591.7,665.1 L593.0,664.4 L594.3,663.8 L595.4,663.2 L596.5,662.7 L597.4,662.3 L598.2,662.0 L598.9,661.7 L599.5,661.5 L600.0,661.4 L600.5,661.3 L600.8,661.2 L601.1,661.2 L601.4,661.1" stroke-width="1.8" fill="none" />
<path d="M269,714.8 L130.8,714.8 C118,714.8 109.4,722 109.4,732.9 L101.2,882.8" stroke-width="1.7" fill="none" />
<path d="M142.8,882.8 L143.5,879.2 L562.8,879.2 L565,881.4" stroke-width="1.7" fill="none" />
<line x1="562.8" y1="879.2" x2="604.0" y2="879.2" stroke-width="1.7" />
<line x1="601.4" y1="661.4" x2="605.4" y2="881.4" stroke-width="1.6" />
<path d="M81.8,882.8 L201.7,882.8 L196.3,900.2 L94.6,900.2 Z" stroke-width="1.7" fill="none" />
<line x1="89.0" y1="890.5" x2="199.5" y2="890.5" stroke-width="1.6" />
<line x1="97.0" y1="884.5" x2="103.0" y2="889.0" stroke-width="2.0" />
<line x1="122.0" y1="884.5" x2="128.0" y2="889.0" stroke-width="2.0" />
<line x1="148.0" y1="884.5" x2="154.0" y2="889.0" stroke-width="2.0" />
<line x1="180.0" y1="884.5" x2="186.0" y2="889.0" stroke-width="2.0" />
<line x1="108.0" y1="893.0" x2="113.0" y2="898.0" stroke-width="1.8" />
<line x1="135.0" y1="893.0" x2="140.0" y2="898.0" stroke-width="1.8" />
<line x1="165.0" y1="893.0" x2="170.0" y2="898.0" stroke-width="1.8" />
<line x1="190.0" y1="893.0" x2="195.0" y2="898.0" stroke-width="1.8" />
<path d="M504,881.4 L623.8,881.4 L617,891 C612,896.5 609,898.5 606.7,898.5 L510,898.5 L505.7,891 Z" stroke-width="1.7" fill="none" />
<line x1="505.7" y1="891.0" x2="617.0" y2="891.0" stroke-width="1.5" />
<line x1="511.0" y1="883.5" x2="517.0" y2="888.0" stroke-width="2.0" />
<line x1="538.0" y1="883.5" x2="544.0" y2="888.0" stroke-width="2.0" />
<line x1="566.0" y1="883.5" x2="572.0" y2="888.0" stroke-width="2.0" />
<line x1="593.0" y1="883.5" x2="599.0" y2="888.0" stroke-width="2.0" />
<rect x="565.0" y="898.5" width="19.2" height="6.5" stroke-width="1.6" fill="none" />
<line x1="574.6" y1="848.0" x2="574.6" y2="910.0" stroke-width="1.0" stroke-dasharray="8 4"/>
<line x1="131.0" y1="848.0" x2="131.0" y2="910.0" stroke-width="1.0" stroke-dasharray="14 3 2 3"/>
<rect x="150.9" y="657.6" width="118.2" height="36.7" stroke-width="1.8" fill="none" />
<rect x="150.9" y="694.3" width="118.2" height="20.0" stroke-width="1.8" fill="none" />
<circle cx="210.0" cy="675.7" r="8.6" stroke-width="1.6" fill="none" />
<line x1="210.0" y1="669.0" x2="210.0" y2="683.0" stroke-width="1.3" />
<line x1="203.0" y1="675.7" x2="217.0" y2="675.7" stroke-width="1.3" />
<path d="M150.9,667.8 L93,667.8 Q89,668 89,676 Q89,684.2 93,684.2 L150.9,684.2" stroke-width="1.7" fill="none" />
<line x1="121.4" y1="667.8" x2="121.4" y2="684.2" stroke-width="1.4" />
<path d="M269.1,667.6 L330,667.6 Q332.5,667.6 332.5,672 L332.5,679 Q332.5,683.7 330,683.7 L269.1,683.7" stroke-width="1.7" fill="none" />
<line x1="298.8" y1="667.6" x2="298.8" y2="683.7" stroke-width="1.4" />
<line x1="85.0" y1="675.7" x2="345.0" y2="675.7" stroke-width="1.2" stroke-dasharray="8 3"/>
<line x1="184.3" y1="580.0" x2="184.3" y2="652.9" stroke-width="1.6" />
<line x1="235.7" y1="580.0" x2="235.7" y2="652.9" stroke-width="1.6" />
<rect x="177.0" y="652.9" width="65.9" height="4.2" stroke-width="1.5" fill="none" />
<rect x="170.9" y="559.1" width="78.2" height="20.9" stroke-width="1.8" fill="none" />
<line x1="210.0" y1="541.0" x2="210.0" y2="666.0" stroke-width="1.5" />
<rect x="221.3" y="728.5" width="65.2" height="11.6" stroke-width="1.7" fill="none" />
<circle cx="231.2" cy="734.3" r="3.2" stroke-width="1.4" fill="none" />
<circle cx="276.2" cy="734.3" r="3.2" stroke-width="1.4" fill="none" />
<line x1="228.0" y1="734.3" x2="234.5" y2="734.3" stroke-width="1.1" />
<line x1="231.2" y1="731.0" x2="231.2" y2="737.6" stroke-width="1.1" />
<line x1="273.0" y1="734.3" x2="279.5" y2="734.3" stroke-width="1.1" />
<line x1="276.2" y1="731.0" x2="276.2" y2="737.6" stroke-width="1.1" />
<line x1="219.5" y1="734.3" x2="290.0" y2="734.3" stroke-width="1.2" stroke-dasharray="7 3 2 3"/>
<circle cx="243.4" cy="734.3" r="1.2" stroke-width="0" fill="#111" />
<circle cx="264.0" cy="734.3" r="1.2" stroke-width="0" fill="#111" />
<circle cx="254.3" cy="772.8" r="10.3" stroke-width="1.7" fill="none" />
<path d="M245.5,766.5 A8.5,8.5 0 1 0 246,779.5" stroke-width="1.7" fill="none" />
<line x1="222.9" y1="772.8" x2="300.0" y2="772.8" stroke-width="1.1" stroke-dasharray="12 3"/>
<line x1="254.3" y1="758.7" x2="254.3" y2="785.7" stroke-width="1.1" />
<circle cx="369.4" cy="772.3" r="22.0" stroke-width="1.7" fill="none" />
<line x1="300.0" y1="772.3" x2="447.0" y2="772.3" stroke-width="1.1" stroke-dasharray="14 3"/>
<line x1="369.4" y1="705.0" x2="369.4" y2="840.0" stroke-width="1.0" stroke-dasharray="14 3 2 3"/>
<path d="M375.7,750 L393.75,705 M384.3,754.3 L405,707.5" stroke-width="1.6" fill="none" />
<line x1="380.0" y1="752.0" x2="399.0" y2="706.0" stroke-width="1.0" stroke-dasharray="8 4"/>
<circle cx="405.0" cy="692.5" r="13.8" stroke-width="1.7" fill="none" />
<path d="M330.9,733.8 A54.5,54.5 0 0 1 385.3,720.2 L382.6,729.3 A45,45 0 0 0 337.6,740.5 Z" stroke-width="1.7" fill="none" />
<path d="M340.9,731.6 A49.7,49.7 0 0 1 373.7,722.8" stroke-width="1.1" fill="none" stroke-dasharray="5 3"/>
<circle cx="346.1" cy="728.4" r="1.2" stroke-width="0" fill="#111" />
<circle cx="369.4" cy="722.6" r="1.2" stroke-width="0" fill="#111" />
<line x1="421.3" y1="947.2" x2="452.7" y2="947.2" stroke-width="1.4" />
<line x1="452.7" y1="947.2" x2="525.7" y2="898.6" stroke-width="1.2" />
<line x1="477.9" y1="946.5" x2="516.4" y2="946.5" stroke-width="1.4" />
<line x1="516.4" y1="946.5" x2="565.7" y2="905.7" stroke-width="1.2" />
<path d="M3,0 L1.2,3.2 M2.5,1.8 L9.2,1.8 L9.2,7 L8,7.6 M3.5,4 L7,4 L7,6 L3.5,6 M3.5,4 L3.5,9.4 L9.6,9.4 L9.6,8.2" transform="translate(422.1,936.0) scale(0.840,0.860)" stroke-width="1.65" fill="none" stroke-linecap="square"/>
<path d="M1.2,0.8 L1.2,4.6 M0,3.4 L2.8,2.2 M3.6,2.4 L9.4,2.4 M6.5,0.3 L6.5,4.6 M4.2,4.6 L8.8,4.6 M0.5,6 L9.5,6 M5,4.9 L5,6 M5.2,6 L0.8,9.8 M4,7.6 L9.6,9.8 M6.4,6.6 L9,7.6 M3.5,8 L3.5,9.6" transform="translate(431.4,936.0) scale(0.840,0.860)" stroke-width="1.65" fill="none" stroke-linecap="square"/>
<path d="M1.2,0.2 L0,2 M1,1 L4.2,1 M2.2,1 L2.8,2.4 M6.2,0.2 L5,2 M6,1 L9.6,1 M7.2,1 L7.8,2.4 M0.3,4.4 L4,4.4 M2.2,3 L2.2,9.8 M2.2,5 L0.2,8 M2.5,5.4 L4,7 M5,3.4 L9.3,3.4 L9.3,9.8 L5,9.8 Z M5,5.5 L9.3,5.5 M5,7.7 L9.3,7.7" transform="translate(440.7,936.0) scale(0.840,0.860)" stroke-width="1.65" fill="none" stroke-linecap="square"/>
<path d="M0.6,0.6 L9.4,0.6 L9.4,9.6 L0.6,9.6 Z M2.2,2.6 L7.8,2.6 M5,1.2 L5,4.6 M3.2,4.6 L6.8,4.6 L6.8,7.9 L3.2,7.9 Z" transform="translate(477.9,935.2) scale(0.860,0.870)" stroke-width="1.62" fill="none" stroke-linecap="square"/>
<path d="M5,0 L5,1.2 M0.8,1.4 L0.8,3.2 M0.8,1.6 L9.2,1.6 L9.2,3.2 M2.4,4 L7.6,4 M5,4 L5,9 M5,6.4 L8.2,6.4 M2.8,5.6 L2.8,8.6 M0.6,6.6 L2.6,8.8 Q5.5,10 9.8,9.6" transform="translate(487.4,935.2) scale(0.860,0.870)" stroke-width="1.62" fill="none" stroke-linecap="square"/>
<path d="M0.4,2.8 L3.6,2.8 L3.6,6 L0.4,6 Z M2,0.8 L2,8.8 M0.2,9.2 L3.9,8.2 M3,7.6 L4.1,9.2 M5,0.5 L9.6,0.5 L9.6,4.5 L5,4.5 Z M5,2.5 L9.6,2.5 M7.3,0.5 L7.3,4.5 M7.2,4.8 L5.5,6.6 L8.8,6.6 L6,8.2 M7.3,7.6 L7.3,9.9 M5.6,9 L4.9,9.9 M8.9,9 L9.7,9.9" transform="translate(496.9,935.2) scale(0.860,0.870)" stroke-width="1.62" fill="none" stroke-linecap="square"/>
<path d="M2,0 L0.4,2.6 M1,2 L4.2,2 M0.5,4 L4,4 M0.5,6 L4,6 M2.2,4 L2.2,9.6 L4.2,8 M4.8,1.5 L9.8,1.5 M7.6,1.5 L7.6,9.6 L6,8.6" transform="translate(506.4,935.2) scale(0.860,0.870)" stroke-width="1.62" fill="none" stroke-linecap="square"/>
<path d="M0.5,0.5 L9.5,0.5 L9.5,9.5 L0.5,9.5 Z M3.6,1.6 L2,3.6 M3.4,2.2 L6.8,2.2 L4.2,4.6 L2,5.6 M4,2.8 L8,5.2 M4.6,6 L6.2,6.8 M3.4,7.6 L6.8,8.6" transform="translate(293.1,984.9) scale(1.600,1.650)" stroke-width="0.92" fill="none" stroke-linecap="square"/>
<text x="0" y="0" font-size="18" transform="translate(330.2,1000.3) scale(0.82,1)" >2</text>
<circle cx="43.3" cy="27.9" r="1.0" stroke-width="0" fill="#333" />
<circle cx="520.0" cy="2.5" r="0.8" stroke-width="0" fill="#333" />
<circle cx="464.0" cy="26.0" r="0.7" stroke-width="0" fill="#333" />
<circle cx="498.5" cy="21.0" r="0.9" stroke-width="0" fill="#333" />
<circle cx="535.0" cy="31.0" r="0.7" stroke-width="0" fill="#333" />
<circle cx="577.5" cy="32.5" r="0.7" stroke-width="0" fill="#333" />
<circle cx="466.5" cy="106.5" r="0.7" stroke-width="0" fill="#333" />
<circle cx="430.0" cy="119.0" r="0.8" stroke-width="0" fill="#333" />
<circle cx="552.5" cy="127.5" r="0.7" stroke-width="0" fill="#333" />
<circle cx="596.0" cy="114.0" r="0.8" stroke-width="0" fill="#333" />
<circle cx="549.0" cy="179.0" r="0.8" stroke-width="0" fill="#333" />
<circle cx="590.0" cy="217.5" r="0.7" stroke-width="0" fill="#333" />
<circle cx="620.0" cy="212.5" r="0.7" stroke-width="0" fill="#333" />
<circle cx="660.0" cy="282.5" r="0.8" stroke-width="0" fill="#333" />
<circle cx="551.8" cy="135.5" r="0.7" stroke-width="0" fill="#333" />
<circle cx="538.0" cy="224.5" r="0.7" stroke-width="0" fill="#333" />
<circle cx="616.8" cy="212.5" r="0.7" stroke-width="0" fill="#333" />
<circle cx="547.0" cy="251.8" r="0.7" stroke-width="0" fill="#333" />
<circle cx="584.0" cy="288.8" r="0.6" stroke-width="0" fill="#333" />
<circle cx="598.8" cy="291.0" r="0.6" stroke-width="0" fill="#333" />
<circle cx="638.8" cy="376.2" r="0.9" stroke-width="0" fill="#333" />
<circle cx="538.8" cy="318.8" r="0.6" stroke-width="0" fill="#333" />
<circle cx="455.0" cy="718.5" r="0.8" stroke-width="0" fill="#333" />
<circle cx="467.5" cy="745.0" r="0.7" stroke-width="0" fill="#333" />
<circle cx="557.5" cy="823.5" r="0.7" stroke-width="0" fill="#333" />
<circle cx="526.0" cy="836.0" r="0.7" stroke-width="0" fill="#333" />
<circle cx="539.0" cy="845.0" r="0.7" stroke-width="0" fill="#333" />
<circle cx="511.0" cy="803.5" r="0.7" stroke-width="0" fill="#333" />
<circle cx="670.0" cy="766.0" r="0.8" stroke-width="0" fill="#333" />
<circle cx="595.0" cy="963.5" r="0.7" stroke-width="0" fill="#333" />
<circle cx="620.0" cy="981.0" r="0.7" stroke-width="0" fill="#333" />
<circle cx="415.0" cy="1008.5" r="0.8" stroke-width="0" fill="#333" />
<circle cx="482.5" cy="976.0" r="0.7" stroke-width="0" fill="#333" />
<circle cx="640.0" cy="996.0" r="0.7" stroke-width="0" fill="#333" />
<circle cx="31.0" cy="810.0" r="0.8" stroke-width="0" fill="#333" />
<circle cx="152.5" cy="766.0" r="0.7" stroke-width="0" fill="#333" />
<circle cx="200.0" cy="816.0" r="0.7" stroke-width="0" fill="#333" />
<circle cx="270.0" cy="816.0" r="0.7" stroke-width="0" fill="#333" />
<circle cx="150.0" cy="848.5" r="0.7" stroke-width="0" fill="#333" />
<circle cx="22.5" cy="1021.0" r="0.8" stroke-width="0" fill="#333" />
<circle cx="315.0" cy="430.0" r="0.8" stroke-width="0" fill="#333" />
<circle cx="245.0" cy="415.0" r="0.7" stroke-width="0" fill="#333" />
<circle cx="290.0" cy="640.0" r="0.7" stroke-width="0" fill="#333" />
<line x1="668.5" y1="805.0" x2="668.5" y2="812.0" stroke-width="1.2" />
<line x1="307.5" y1="587.0" x2="307.5" y2="593.0" stroke-width="1.0" />
</svg>
</body></html>
